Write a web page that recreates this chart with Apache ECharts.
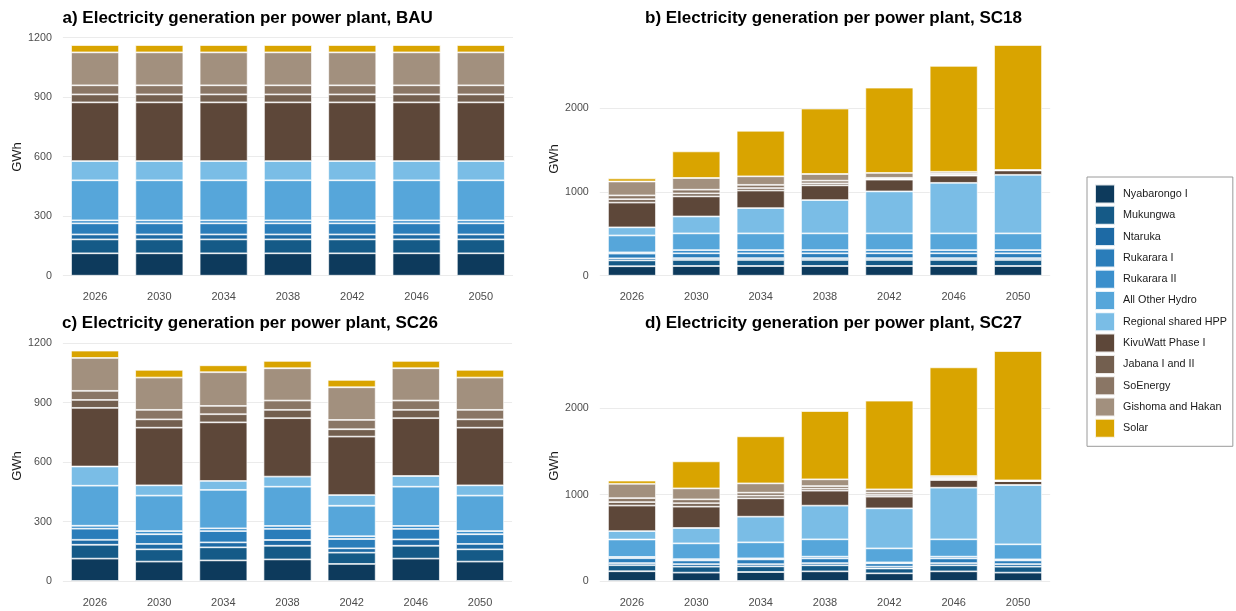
<!DOCTYPE html>
<html>
<head>
<meta charset="utf-8">
<script src="https://cdn.jsdelivr.net/npm/echarts@6/dist/echarts.min.js"></script>
<style>
html,body{margin:0;padding:0;background:#fff;}
#chart{width:1236px;height:611px;}
</style>
</head>
<body>
<div id="chart"></div>
<script>
// ---- Data ----
const years = ['2026','2030','2034','2038','2042','2046','2050'];
const plants = ['Nyabarongo I','Mukungwa','Ntaruka','Rukarara I','Rukarara II','All Other Hydro',
  'Regional shared HPP','KivuWatt Phase I','Jabana I and II','SoEnergy','Gishoma and Hakan','Solar'];
const panelTitles = [
  'a) Electricity generation per power plant, BAU',
  'b) Electricity generation per power plant, SC18',
  'c) Electricity generation per power plant, SC26',
  'd) Electricity generation per power plant, SC27'
];

// rows follow the order of `plants`, columns follow `years` (GWh)
const bau = [
  [113,113,113,113,113,113,113],
  [70,70,70,70,70,70,70],
  [25,25,25,25,25,25,25],
  [56,56,56,56,56,56,56],
  [15,15,15,15,15,15,15],
  [202,202,202,202,202,202,202],
  [97,97,97,97,97,97,97],
  [296,296,296,296,296,296,296],
  [40,40,40,40,40,40,40],
  [46,46,46,46,46,46,46],
  [166,166,166,166,166,166,166],
  [37,37,37,37,37,37,37]
];
const sc18 = [
  [113,116,116,116,116,116,116],
  [70,72,72,72,72,72,72],
  [25,22,22,22,22,22,22],
  [56,58,58,58,58,58,58],
  [15,38,38,38,38,38,38],
  [202,200,200,200,200,200,200],
  [97,202,302,398,502,604,700],
  [296,240,210,176,140,86,52],
  [40,36,30,24,8,8,0],
  [46,44,38,32,14,16,0],
  [166,140,102,80,58,22,6],
  [37,318,545,782,1020,1266,1494]
];
const sc26 = [
  [113,98,104,109,86,113,98],
  [70,62,66,69,57,65,62],
  [25,27,25,29,22,32,27],
  [56,49,57,56,47,53,49],
  [15,16,14,15,14,15,16],
  [202,179,194,198,154,198,179],
  [97,52,45,51,54,54,52],
  [296,291,296,295,295,292,291],
  [40,42,41,42,37,42,42],
  [46,48,42,47,47,47,48],
  [166,163,170,163,165,163,163],
  [37,39,35,37,37,37,39]
];
const sc27 = [
  [113,97,104,112,89,112,97],
  [70,69,66,70,56,70,69],
  [25,30,25,25,22,25,30],
  [56,42,55,55,38,55,42],
  [15,15,13,20,11,20,13],
  [202,183,185,201,162,201,174],
  [97,178,297,390,464,598,687],
  [296,247,213,173,135,89,46],
  [40,40,30,24,20,12,0],
  [46,45,35,30,26,14,0],
  [166,127,108,78,39,20,8],
  [37,313,545,791,1027,1259,1498]
];

// ---- Styling ----
const colors = ['#0d3a5c','#155a87','#1d6aa5','#2a7dba','#3b8fcc','#56a6da',
  '#7abde6','#5d4739','#735f4f','#8a7665','#a2907e','#d9a400'];
const FONT = '"Liberation Sans", Arial, sans-serif';

const scenarios = [bau, sc18, sc26, sc27];
const grids = [
  {left:62.9, top:37.7, width:450.1, height:238.0},
  {left:599.8, top:33.1, width:450.4, height:242.6},
  {left:62.9, top:343.3, width:449.2, height:237.7},
  {left:599.8, top:339.3, width:450.4, height:241.7}
];
const yMax = [1200, 2900, 1200, 2800];
const yInt = [300, 1000, 300, 1000];

const xAxes = grids.map((g,i)=>({
  type:'category', gridIndex:i, data:years,
  axisLine:{show:false}, axisTick:{show:false},
  axisLabel:{margin:16, fontSize:11, color:'#4d4d4d', fontFamily:FONT}
}));
const yAxes = grids.map((g,i)=>({
  type:'value', gridIndex:i, min:0, max:yMax[i], interval:yInt[i],
  axisLine:{show:false}, axisTick:{show:false},
  axisLabel:{margin:11, fontSize:10.7, color:'#4d4d4d', fontFamily:FONT,
    formatter:(v)=>String(v), showMaxLabel: yMax[i] % yInt[i] === 0},
  splitLine:{lineStyle:{color:'#ebebeb', width:1}, showMaxLine: yMax[i] % yInt[i] === 0}
}));

const series = [];
scenarios.forEach((sc, gi)=>{
  plants.forEach((p, pi)=>{
    series.push({
      type:'bar', name:p, stack:'s'+gi, xAxisIndex:gi, yAxisIndex:gi,
      data:sc[pi], barWidth:48,
      itemStyle:{color:colors[pi], borderColor:'rgba(255,255,255,0.85)', borderWidth:0.8},
      emphasis:{disabled:true}
    });
  });
});

const titlePos = [[62.5,18.3,'left'],[645,18.3,'left'],[62,323.5,'left'],[645,323.5,'left']];
const gwhPos = [[17.5,157],[554,159],[17.5,466],[554,466]];
const graphics = [];
panelTitles.forEach((t,i)=>{
  graphics.push({type:'text', x:titlePos[i][0], y:titlePos[i][1], silent:true,
    style:{text:t, font:'bold 17px '+FONT, fill:'#000', textAlign:titlePos[i][2], textVerticalAlign:'middle'}});
});
gwhPos.forEach(p=>{
  graphics.push({type:'text', x:p[0], y:p[1], rotation:Math.PI/2, silent:true,
    style:{text:'GWh', font:'13px '+FONT, fill:'#1a1a1a', textAlign:'center', textVerticalAlign:'middle'}});
});

const chart = echarts.init(document.getElementById('chart'), null, {renderer:'canvas'});
chart.setOption({
  animation:false,
  backgroundColor:'#ffffff',
  textStyle:{fontFamily:FONT},
  grid:grids,
  xAxis:xAxes,
  yAxis:yAxes,
  legend:{
    data:plants.map(p=>({name:p, icon:'rect'})),
    orient:'vertical', left:1087, top:177,
    padding:[6.5,6,7.5,7], itemWidth:20, itemHeight:19, itemGap:0.3,
    borderColor:'#9a9a9a', borderWidth:1,
    textStyle:{fontSize:10.8, color:'#1a1a1a', fontFamily:FONT, padding:[0,0,0,3]},
    selectedMode:false
  },
  graphic:graphics,
  series:series
});
</script>
</body>
</html>
